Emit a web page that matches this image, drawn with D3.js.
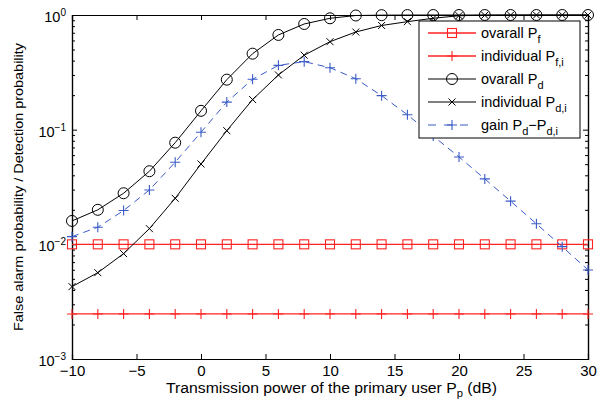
<!DOCTYPE html>
<html>
<head>
<meta charset="utf-8">
<script src="https://cdn.jsdelivr.net/npm/d3@7.9.0/dist/d3.min.js"></script>
<style>
  body { margin: 0; background: #fff; }
  text { font-family: "Liberation Sans", Arial, sans-serif; }
</style>
</head>
<body>
<script>
// ** Data **
const powerDb = [-10, -8, -6, -4, -2, 0, 2, 4, 6, 8, 10, 12, 14, 16, 18, 20, 22, 24, 26, 28, 30];
const overallPf = powerDb.map(() => 0.01);
const individualPf = powerDb.map(() => 0.00247);
const overallPd = [0.016, 0.020, 0.0279, 0.0434, 0.077, 0.146, 0.273, 0.46, 0.67, 0.835, 0.936, 0.99,
                   0.997, 0.999, 1, 1, 1, 1, 1, 1, 1];
const individualPd = [0.00428, 0.00566, 0.0083, 0.0137, 0.0252, 0.0502, 0.098, 0.183, 0.30, 0.446, 0.585,
                      0.711, 0.81, 0.875, 0.936, 0.986, 0.995, 0.998, 0.999, 1, 1];
const gainPd = [0.01167, 0.0141, 0.0197, 0.0298, 0.052, 0.095, 0.174, 0.275, 0.364, 0.392, 0.347, 0.278,
                0.198, 0.135, 0.088, 0.0578, 0.0372, 0.0238, 0.0151, 0.00955, 0.00598];
const xTicks = [-10, -5, 0, 5, 10, 15, 20, 25, 30];
const yTicks = [1e-3, 1e-2, 1e-1, 1];
const yTickExp = ["\u22123", "\u22122", "\u22121", "0"];

// ** SVG Setup **
const width = 606, height = 403;
const margin = { left: 72, right: 18, top: 15, bottom: 44 };
const svg = d3.select("body").append("svg")
    .attr("width", width)
    .attr("height", height);

const x = d3.scaleLinear().domain([-10, 30]).range([margin.left, width - margin.right]);
const y = d3.scaleLog().domain([1e-3, 1]).range([height - margin.bottom, margin.top]);

const minorTicks = [];
[1e-3, 1e-2, 1e-1].forEach(d => { for (let k = 2; k <= 9; k++) minorTicks.push(d * k); });

// ** Axes (ticks point inward, like MATLAB) **
const bottom = svg.append("g")
    .attr("transform", `translate(0,${y.range()[0]})`)
    .call(d3.axisBottom(x).tickValues(xTicks).tickSize(-5).tickPadding(6)
        .tickFormat(d => d < 0 ? "\u2212" + Math.abs(d) : d));
svg.append("g")
    .attr("transform", `translate(0,${y.range()[1]})`)
    .call(d3.axisTop(x).tickValues(xTicks).tickSize(-5).tickFormat(""));

const left = svg.append("g")
    .attr("transform", `translate(${x.range()[0]},0)`)
    .call(d3.axisLeft(y).tickValues(yTicks).tickSize(-5).tickPadding(6).tickFormat(""));
svg.append("g")
    .attr("transform", `translate(${x.range()[0]},0)`)
    .call(d3.axisLeft(y).tickValues(minorTicks).tickSize(-3).tickFormat(""));
svg.append("g")
    .attr("transform", `translate(${x.range()[1]},0)`)
    .call(d3.axisRight(y).tickValues(yTicks).tickSize(-5).tickFormat(""));
svg.append("g")
    .attr("transform", `translate(${x.range()[1]},0)`)
    .call(d3.axisRight(y).tickValues(minorTicks).tickSize(-3).tickFormat(""));

svg.selectAll(".domain").attr("stroke", "#000").attr("stroke-width", 1.2);
svg.selectAll(".tick line").attr("stroke", "#000");
bottom.selectAll("text").style("font-size", "15px").attr("fill", "#000");

// y tick labels 10^n
left.selectAll(".tick text").each(function (d, i) {
    const t = d3.select(this).attr("fill", "#000").style("font-size", "14.5px").attr("dy", "0.45em");
    t.append("tspan").text("10");
    t.append("tspan").attr("dy", "-0.6em").style("font-size", "10px").text(yTickExp[i]);
});

// ** Axis titles **
const xlab = svg.append("text")
    .attr("x", 166)
    .attr("y", 393)
    .style("font-size", "14px");
xlab.append("tspan").text("Transmission power of the primary user P");
xlab.append("tspan").attr("dy", "4").style("font-size", "10px").text("p");
xlab.append("tspan").attr("dy", "-4").text(" (dB)");
xlab.attr("textLength", 331).attr("lengthAdjust", "spacingAndGlyphs");

svg.append("text")
    .attr("transform", `translate(23,${(y.range()[0] + y.range()[1]) / 2}) rotate(-90)`)
    .attr("text-anchor", "middle")
    .attr("textLength", 288)
    .attr("lengthAdjust", "spacingAndGlyphs")
    .style("font-size", "13.5px")
    .text("False alarm probability / Detection probability");

// ** Series **
const red = "#f22", black = "#000", blue = "#3a5bc7";
const series = [
    { name: ["ovarall P", "f"], values: overallPf, color: red, marker: "square", dash: null },
    { name: ["individual P", "f,i"], values: individualPf, color: red, marker: "plus", dash: null },
    { name: ["ovarall P", "d"], values: overallPd, color: black, marker: "circle", dash: null },
    { name: ["individual P", "d,i"], values: individualPd, color: black, marker: "cross", dash: null },
    { name: ["gain P", "d", "\u2212P", "d,i"], values: gainPd, color: blue, marker: "plus", dash: "7,5" }
];

const line = d3.line().x(d => x(d[0])).y(d => y(d[1]));

function drawMarker(g, type, cx, cy, color) {
    if (type === "square") {
        g.append("rect").attr("x", cx - 4.5).attr("y", cy - 4.5).attr("width", 9).attr("height", 9)
            .attr("fill", "none").attr("stroke", color).attr("stroke-width", 1.1);
    } else if (type === "circle") {
        g.append("circle").attr("cx", cx).attr("cy", cy).attr("r", 5.5)
            .attr("fill", "none").attr("stroke", color).attr("stroke-width", 1);
    } else if (type === "plus") {
        g.append("path").attr("d", `M${cx - 5},${cy}H${cx + 5}M${cx},${cy - 5}V${cy + 5}`)
            .attr("stroke", color).attr("stroke-width", 1.1);
    } else if (type === "cross") {
        g.append("path").attr("d", `M${cx - 3.5},${cy - 3.5}L${cx + 3.5},${cy + 3.5}M${cx - 3.5},${cy + 3.5}L${cx + 3.5},${cy - 3.5}`)
            .attr("stroke", color).attr("stroke-width", 1);
    }
}

const plot = svg.append("g");
series.forEach(s => {
    const pts = powerDb.map((p, i) => [p, s.values[i]]);
    plot.append("path")
        .attr("d", line(pts))
        .attr("fill", "none")
        .attr("stroke", s.color)
        .attr("stroke-width", s.color === red ? 1.3 : 1)
        .attr("stroke-dasharray", s.dash);
    const mg = plot.append("g");
    pts.forEach(d => drawMarker(mg, s.marker, x(d[0]), y(d[1]), s.color));
});

// ** Legend **
const lg = svg.append("g").attr("transform", "translate(419,21)");
lg.append("rect").attr("width", 161).attr("height", 117)
    .attr("fill", "#fff").attr("stroke", "#000").attr("stroke-width", 1);
series.forEach((s, i) => {
    const yy = 12 + i * 23;
    lg.append("line").attr("x1", 9).attr("x2", 57).attr("y1", yy).attr("y2", yy)
        .attr("stroke", s.color).attr("stroke-width", s.color === red ? 1.3 : 1)
        .attr("stroke-dasharray", s.dash ? "8,8" : null);
    drawMarker(lg, s.marker, 33, yy, s.color);
    const t = lg.append("text").attr("x", 62).attr("y", yy + 5).style("font-size", "14.5px");
    s.name.forEach((part, j) => {
        if (j % 2 === 0) t.append("tspan").attr("dy", j === 0 ? 0 : -5).text(part);
        else t.append("tspan").attr("dy", 5).style("font-size", "11px").text(part);
    });
});
</script>
</body>
</html>
